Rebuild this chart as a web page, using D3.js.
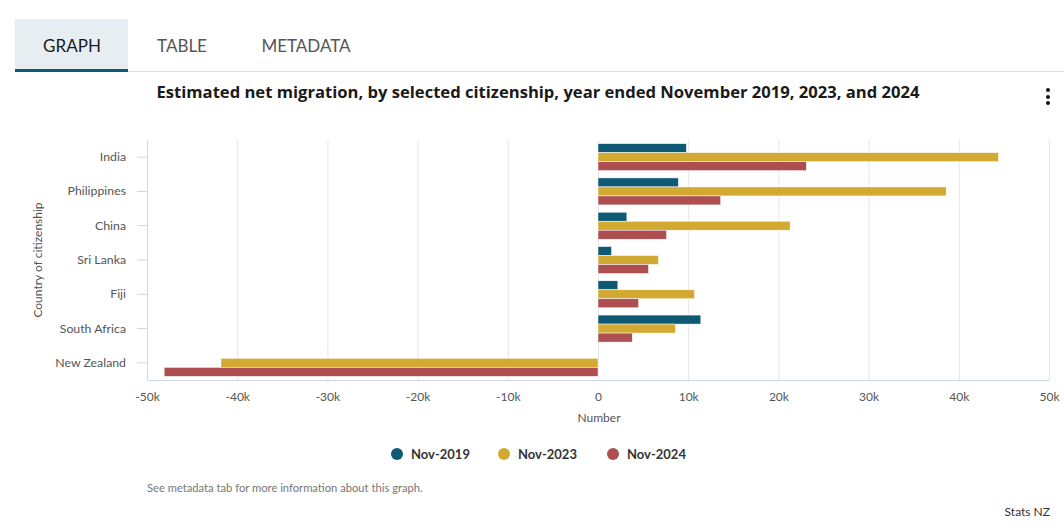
<!DOCTYPE html>
<html><head><meta charset="utf-8">
<script src="https://cdn.jsdelivr.net/npm/d3@7"></script>
<style>
body{margin:0;background:#fff;font-family:Lato,"Open Sans",sans-serif;}
</style></head>
<body>
<svg id="c" width="1064" height="531"></svg>
<script>
const categories = ["India","Philippines","China","Sri Lanka","Fiji","South Africa","New Zealand"];
const seriesNames = ["Nov-2019","Nov-2023","Nov-2024"];
const nov2019 = [9.8, 8.9, 3.2, 1.5, 2.2, 11.4, null];
const nov2023 = [44.4, 38.6, 21.3, 6.7, 10.7, 8.6, -41.8];
const nov2024 = [23.1, 13.6, 7.6, 5.6, 4.5, 3.8, -48.1];
const xTicks = [-50,-40,-30,-20,-10,0,10,20,30,40,50];
const colors = ["#0e5a74","#d3aa31","#ad4f51"];

const svg = d3.select("#c");
const font = "Lato, 'Open Sans', sans-serif";

// Tabs
svg.append("rect").attr("x",15).attr("y",19).attr("width",113).attr("height",52).attr("fill","#e6eef1");
svg.append("line").attr("x1",15).attr("x2",1064).attr("y1",71.5).attr("y2",71.5).attr("stroke","#dcdcdc").attr("stroke-width",1);
svg.append("rect").attr("x",15).attr("y",69).attr("width",113).attr("height",3).attr("fill","#0e5a74");
[["GRAPH",72,"#1a1a1a"],["TABLE",182,"#555"],["METADATA",306,"#555"]].forEach(([t,x,c])=>{
  svg.append("text").attr("x",x).attr("y",52).attr("text-anchor","middle").attr("font-family",font)
    .attr("font-size",17).attr("fill",c).text(t);
});

// Title
svg.append("text").attr("x",538).attr("y",98).attr("text-anchor","middle").attr("font-family","'Open Sans', sans-serif")
  .attr("font-size",16.6).attr("font-weight","bold").attr("fill","#1a1a1a")
  .text("Estimated net migration, by selected citizenship, year ended November 2019, 2023, and 2024");

// Kebab
[90,97,103].forEach(y=>svg.append("circle").attr("cx",1048).attr("cy",y).attr("r",2).attr("fill","#111"));

const pLeft=147,pRight=1049,pTop=140,pBottom=380;
const x = d3.scaleLinear().domain([-50,50]).range([pLeft,pRight]);
const y = d3.scaleBand().domain(categories).range([pTop,pBottom]);
const inner = d3.scaleBand().domain(seriesNames).range([0,27]);

// gridlines
svg.append("g").selectAll("line").data(xTicks.filter(d=>d!==-50)).join("line")
  .attr("x1",d=>x(d)+0.5).attr("x2",d=>x(d)+0.5).attr("y1",pTop).attr("y2",pBottom)
  .attr("stroke","#e6e6e6");

// bars
const data = [nov2019,nov2023,nov2024];
data.forEach((vals,si)=>{
  svg.append("g").selectAll("rect").data(categories.map((c,i)=>({c,v:vals[i]})).filter(d=>d.v!==null)).join("rect")
    .attr("x",d=>x(Math.min(0,d.v))).attr("width",d=>Math.abs(x(d.v)-x(0)))
    .attr("y",d=>y(d.c)+(y.bandwidth()-27)/2+inner(seriesNames[si])).attr("height",inner.bandwidth())
    .attr("fill",colors[si]).attr("stroke","#fff").attr("stroke-width",0.5);
});

// axes
const xAxis = svg.append("g").attr("transform",`translate(0,${pBottom})`)
  .call(d3.axisBottom(x).tickValues(xTicks).tickSize(0).tickPadding(12).tickFormat(d=>d===0?"0":d+"k"));
xAxis.select(".domain").attr("stroke","#ccd6eb");
xAxis.selectAll("text").attr("font-family",font).attr("font-size",12).attr("fill","#555");

const yAxis = svg.append("g").attr("transform",`translate(${pLeft},0)`)
  .call(d3.axisLeft(y).tickSize(10).tickPadding(11).tickSizeOuter(0));
yAxis.select(".domain").attr("stroke","#ccd6eb");
yAxis.selectAll(".tick line").attr("stroke","#ccd6eb");
yAxis.selectAll("text").attr("font-family",font).attr("font-size",12.3).attr("fill","#555");

svg.append("text").attr("x",599).attr("y",422).attr("text-anchor","middle").attr("font-family",font)
  .attr("font-size",12).attr("fill","#555").text("Number");
svg.append("text").attr("transform","translate(42,260) rotate(-90)").attr("text-anchor","middle")
  .attr("font-family",font).attr("font-size",12).attr("fill","#555").text("Country of citizenship");

// legend
const lx=[397,504,613];
seriesNames.forEach((s,i)=>{
  svg.append("circle").attr("cx",lx[i]).attr("cy",454).attr("r",6).attr("fill",colors[i]);
  svg.append("text").attr("x",lx[i]+14).attr("y",459).attr("font-family",font).attr("font-size",13)
    .attr("font-weight","bold").attr("fill","#333").text(s);
});

// footer
svg.append("text").attr("x",147).attr("y",492).attr("font-family",font).attr("font-size",11.2)
  .attr("fill","#777").text("See metadata tab for more information about this graph.");
svg.append("text").attr("x",1050).attr("y",516).attr("text-anchor","end").attr("font-family",font)
  .attr("font-size",12).attr("fill","#333").text("Stats NZ");
</script>
</body></html>
